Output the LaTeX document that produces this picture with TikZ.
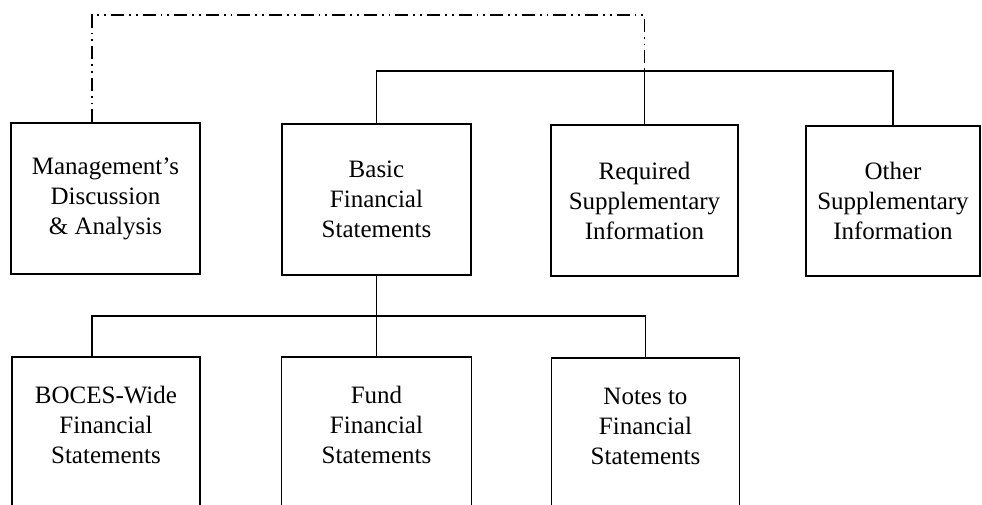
\documentclass[tikz,border=0pt]{standalone}
\usepackage{fontspec}
\setmainfont{Liberation Serif}
\usepackage{tikz}

\begin{document}
\begin{tikzpicture}[
    x=1pt, y=-1pt,
    box/.style={draw, rectangle, line width=1.3pt, inner sep=0pt, align=center, text centered, minimum height=151pt, font=\fontsize{25}{30}\selectfont},
    lowbox/.style={box, text height=66pt, text depth=5pt},
    link/.style={line width=1.2pt},
    dashdotdot/.style={line width=1.4pt, dash pattern=on 13pt off 5pt on 1.8pt off 5pt on 1.8pt off 5pt}
]

    \clip (0,0) rectangle (982,504);

    \node[box, minimum width=189pt] (mda) at (105.5,198.5) {Management's\\Discussion\\\& Analysis};
    \node[box, minimum width=189pt] (bfs) at (376.5,199.5) {Basic\\Financial\\Statements};
    \node[box, minimum width=187pt] (rsi) at (644.5,200.5) {Required\\Supplementary\\Information};
    \node[box, minimum width=174pt, minimum height=150pt] (osi) at (893,201) {Other\\Supplementary\\Information};

    \node[lowbox, minimum width=188pt] (gwfs) at (106,432.5) {BOCES-Wide\\Financial\\Statements};
    \node[lowbox, minimum width=190pt] (ffs) at (376.5,432.5) {Fund\\Financial\\Statements};
    \node[lowbox, minimum width=188pt] (nfs) at (645.5,433.5) {Notes to\\Financial\\Statements};

    \coordinate (ctl) at (92,15);
    \coordinate (top) at (0,71);
    \coordinate (mid) at (0,316);

    \draw[dashdotdot] (mda.north -| ctl) |- (ctl -| rsi.north) -- (rsi.north |- top);
    \draw[link] (bfs.north) -- (bfs.north |- top) -| (osi.north);
    \draw[link] (rsi.north |- top) -- (rsi.north);

    \draw[link] (bfs.south) -- (ffs.north);
    \draw[link] (gwfs.north -| ctl) |- (nfs.north |- mid) -- (nfs.north);

\end{tikzpicture}
\end{document}
